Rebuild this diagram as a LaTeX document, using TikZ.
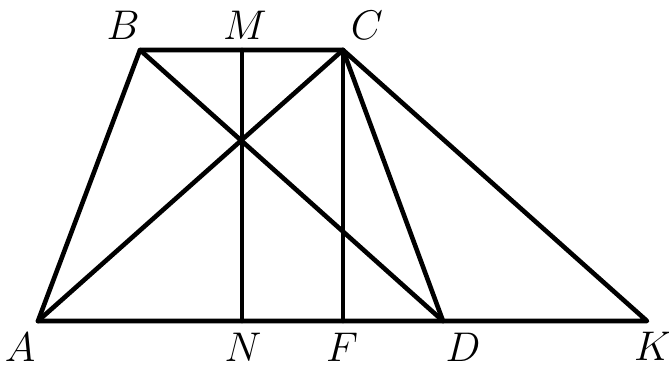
\documentclass[tikz,border=0pt]{standalone}
\usetikzlibrary{positioning}
\begin{document}
\begin{tikzpicture}[
    x=0.5pt, y=-0.5pt,
    seg/.style={line width=2.3pt, black, line cap=round, line join=round},
    lbl/.style={font=\fontsize{20}{24}\selectfont, inner sep=0pt},
]
\useasboundingbox (0,0) rectangle (669,369);

% Vertices
\coordinate (A) at (38,321);
\coordinate (B) at (140,50);
\coordinate (C) at (343,50);
\coordinate (D) at (443,321);
\coordinate (K) at (647,321);
\coordinate (M) at (242,50);
\coordinate (N) at (242,321);
\coordinate (F) at (343,321);

% Labels
\node[lbl] (lblB) at (123,25) {$B$};
\node[lbl] (lblM) at (245,25) {$M$};
\node[lbl] (lblC) at (367,25) {$C$};
\node[lbl] (lblA) at (20,347) {$A$};
\node[lbl] (lblN) at (243,347) {$N$};
\node[lbl] (lblF) at (342,347) {$F$};
\node[lbl] (lblD) at (463,347) {$D$};
\node[lbl] (lblK) at (653,346) {$K$};

% Trapezoid with base extended to K
\draw[seg] (A) -- (B) -- (C) -- (D);
\draw[seg] (A) -- (K) -- (C);

% Diagonals
\draw[seg] (A) -- (C);
\draw[seg] (B) -- (D);

% Verticals
\draw[seg] (M) -- (N);
\draw[seg] (C) -- (F);

\end{tikzpicture}
\end{document}
